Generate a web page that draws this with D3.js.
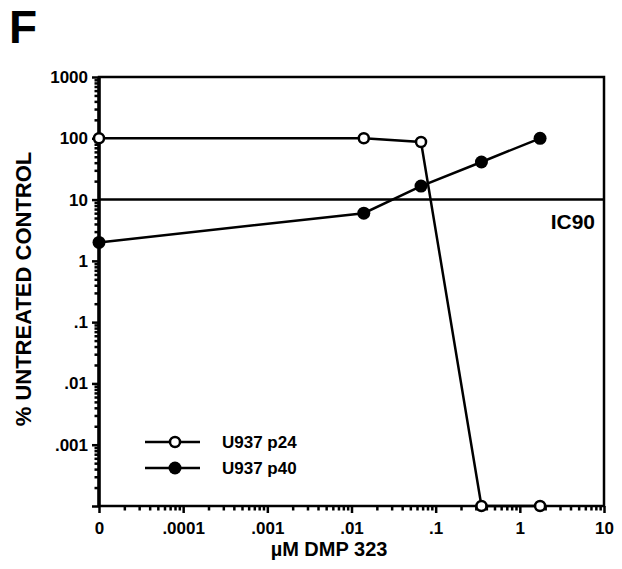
<!DOCTYPE html>
<html>
<head>
<meta charset="utf-8">
<script src="https://cdn.jsdelivr.net/npm/d3@7"></script>
<style>
  body { margin: 0; background: #fff; }
  text { font-family: "Liberation Sans", Arial, sans-serif; font-weight: bold; fill: #000; }
</style>
</head>
<body>
<div id="canvas"></div>
<script>
"use strict"

/* Data. A dose of 0 sits on the axis at the left end. */
let doses = [0, 0.014, 0.067, 0.35, 1.74];
let p24Values = [100, 100, 87, 0.0001, 0.0001];
let p40Values = [2.0, 6.0, 16.6, 41, 100];
let ic90 = 10;

let xTickValues = [0, 0.0001, 0.001, 0.01, 0.1, 1, 10];
let xTickLabels = ["0", ".0001", ".001", ".01", ".1", "1", "10"];
let yTickValues = [0.001, 0.01, 0.1, 1, 10, 100, 1000];
let yTickLabels = [".001", ".01", ".1", "1", "10", "100", "1000"];

let zeroDose = 0.00001;   // where "0" is placed on the log axis
function doseX(d) { return d === 0 ? zeroDose : d; }

let drawing = d3.select("#canvas")
    .append("svg")
    .attr("width", 622)
    .attr("height", 569);

let x = d3.scaleLog().domain([zeroDose, 10]).range([99, 604]);
let y = d3.scaleLog().domain([0.0001, 1000]).range([506, 77]);

/* minor ticks: 2..9 in every decade */
function minorTicks(lo, hi) {
    let out = [];
    for (let e = lo; e < hi; e++) {
        for (let k = 2; k <= 9; k++) out.push(k * Math.pow(10, e));
    }
    return out;
}

/* Title letter */
drawing.append("text")
    .attr("x", 9)
    .attr("y", 43)
    .style("font-size", "46px")
    .style("font-weight", "900")
    .text("F");

/* Y axis */
drawing.append("g")
    .attr("transform", "translate(99,0)")
    .call(d3.axisLeft(y).tickValues(minorTicks(-4, 3)).tickSize(4.5).tickFormat(""))
    .call(g => g.select(".domain").remove())
    .call(g => g.selectAll("line").attr("stroke-width", 2.5));

let yAxis = drawing.append("g")
    .attr("transform", "translate(99,0)")
    .call(d3.axisLeft(y).tickValues(yTickValues.concat([0.0001])).tickSize(7).tickPadding(4)
        .tickFormat(d => { let i = yTickValues.indexOf(d); return i < 0 ? "" : yTickLabels[i]; }));
yAxis.select(".domain").remove();
yAxis.selectAll("line").attr("stroke-width", 2.5);
yAxis.selectAll("text").style("font-size", "17px").attr("font-family", null);

/* X axis */
drawing.append("g")
    .attr("transform", "translate(0,506)")
    .call(d3.axisBottom(x).tickValues(minorTicks(-5, 1)).tickSize(4.5).tickFormat(""))
    .call(g => g.select(".domain").remove())
    .call(g => g.selectAll("line").attr("stroke-width", 2.5));

let xAxis = drawing.append("g")
    .attr("transform", "translate(0,506)")
    .call(d3.axisBottom(x).tickValues(xTickValues.map(doseX)).tickSize(7).tickPadding(9)
        .tickFormat((d, i) => xTickLabels[i]));
xAxis.select(".domain").remove();
xAxis.selectAll("line").attr("stroke-width", 2.5);
xAxis.selectAll("text").style("font-size", "17px").attr("font-family", null);

/* Plot frame */
let frame = drawing.append("rect")
    .attr("x", x.range()[0])
    .attr("y", y.range()[1])
    .attr("width", x.range()[1] - x.range()[0])
    .attr("height", y.range()[0] - y.range()[1])
    .attr("fill", "none")
    .attr("stroke", "black")
    .attr("stroke-width", 2.5);

let leftAxisLine = drawing.append("line")
    .attr("x1", x.range()[0])
    .attr("x2", x.range()[0])
    .attr("y1", y.range()[1])
    .attr("y2", y.range()[0])
    .attr("stroke", "black")
    .attr("stroke-width", 3.5);

/* IC90 line and label */
drawing.append("line")
    .attr("x1", x.range()[0])
    .attr("x2", x.range()[1])
    .attr("y1", y(ic90))
    .attr("y2", y(ic90))
    .attr("stroke", "black")
    .attr("stroke-width", 2.5);

drawing.append("text")
    .attr("x", 595)
    .attr("y", y(ic90) + 29)
    .attr("text-anchor", "end")
    .style("font-size", "21px")
    .text("IC90");

/* Series */
let line = d3.line()
    .x(d => x(doseX(d[0])))
    .y(d => y(d[1]));

let p24Data = d3.zip(doses, p24Values);
let p40Data = d3.zip(doses, p40Values);

drawing.append("path")
    .datum(p24Data)
    .attr("d", line)
    .attr("fill", "none")
    .attr("stroke", "black")
    .attr("stroke-width", 2.5);

drawing.append("path")
    .datum(p40Data)
    .attr("d", line)
    .attr("fill", "none")
    .attr("stroke", "black")
    .attr("stroke-width", 2.5);

drawing.selectAll(".p24")
    .data(p24Data)
    .enter().append("circle")
    .attr("class", "p24")
    .attr("cx", d => x(doseX(d[0])))
    .attr("cy", d => y(d[1]))
    .attr("r", 5)
    .attr("fill", "white")
    .attr("stroke", "black")
    .attr("stroke-width", 2.5);

drawing.selectAll(".p40")
    .data(p40Data)
    .enter().append("circle")
    .attr("class", "p40")
    .attr("cx", d => x(doseX(d[0])))
    .attr("cy", d => y(d[1]))
    .attr("r", 6.5)
    .attr("fill", "black");

/* Legend */
let legendX = 145;
let legendY = 442;
let legendItems = [
    { label: "U937 p24", fill: "white", r: 5 },
    { label: "U937 p40", fill: "black", r: 6.5 }
];

legendItems.forEach((item, i) => {
    let ly = legendY + i * 26;
    drawing.append("line")
        .attr("x1", legendX)
        .attr("x2", legendX + 55)
        .attr("y1", ly)
        .attr("y2", ly)
        .attr("stroke", "black")
        .attr("stroke-width", 2.5);
    drawing.append("circle")
        .attr("cx", legendX + 30)
        .attr("cy", ly)
        .attr("r", item.r)
        .attr("fill", item.fill)
        .attr("stroke", "black")
        .attr("stroke-width", item.fill === "white" ? 2.5 : 0);
    drawing.append("text")
        .attr("x", legendX + 77)
        .attr("y", ly + 6)
        .style("font-size", "17px")
        .text(item.label);
});

/* Axis titles */
drawing.append("text")
    .attr("x", 329)
    .attr("y", 556)
    .attr("text-anchor", "middle")
    .style("font-size", "20px")
    .text("\u00B5M DMP 323");

drawing.append("text")
    .attr("transform", "translate(31,289) rotate(-90)")
    .attr("text-anchor", "middle")
    .style("font-size", "22px")
    .text("% UNTREATED CONTROL");
</script>
</body>
</html>
